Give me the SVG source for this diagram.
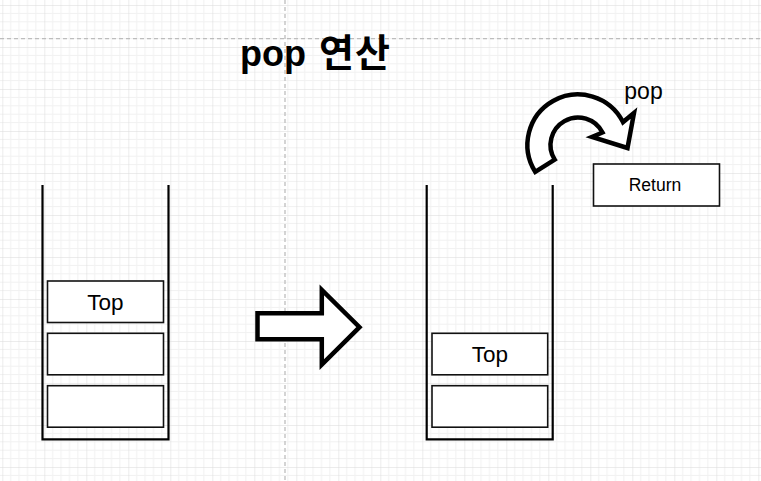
<svg xmlns="http://www.w3.org/2000/svg" width="761" height="481" viewBox="0 0 761 481">
<defs>
<pattern id="grid" patternUnits="userSpaceOnUse" x="2.3" y="5" width="42" height="42">
<path d="M8.4 0V42M16.8 0V42M25.2 0V42M33.6 0V42M0 8.4H42M0 16.8H42M0 25.2H42M0 33.6H42" stroke="#f1f1f1" stroke-width="1" fill="none"/>
<path d="M0 0V42M0 0H42" stroke="#dadada" stroke-width="1" fill="none"/>
</pattern>
<style>
.stack{fill:none;stroke:#000;stroke-width:2.2}
.box{fill:#fff;stroke:#111;stroke-width:1.6}
.lbl{font-family:"Liberation Sans",Arial,sans-serif;fill:#000;text-anchor:middle}
.big{fill:#fff;stroke:#000;stroke-width:4.5;stroke-linejoin:miter}
.guide{stroke:#bdbdbd;stroke-width:1.3;stroke-dasharray:4 3;fill:none}
</style>
</defs>
<rect width="761" height="481" fill="#fff"/>
<rect width="761" height="481" fill="url(#grid)"/>
<g id="guides">
<line class="guide" x1="0" y1="38.7" x2="761" y2="38.7"/>
<line class="guide" x1="285" y1="0" x2="285" y2="481"/>
</g>
<g id="title">
<text x="240" y="66" font-family="'Liberation Sans','Noto Sans CJK KR',sans-serif" font-weight="bold" font-size="36" fill="#000">pop <tspan dx="3" font-size="38" letter-spacing="1">연산</tspan></text>
</g>
<g id="stack-left">
<path class="stack" d="M42.5 185V439.3H168.5V185"/>
</g>
<g id="left-box-top"><rect class="box" x="47.5" y="281" width="116" height="41.5"/><text class="lbl" x="105.5" y="309.5" font-size="22.5">Top</text></g>
<g id="left-box-2"><rect class="box" x="47.5" y="333.3" width="116" height="41.5"/></g>
<g id="left-box-3"><rect class="box" x="47.5" y="385.7" width="116" height="41.5"/></g>
<g id="arrow-right">
<path class="big" d="M257.5 313.2H321.8V290L359.5 327.2L321.8 364.5V339.2H257.5Z"/>
</g>
<g id="stack-right">
<path class="stack" d="M426.7 185V439.3H552.7V185"/>
</g>
<g id="right-box-top"><rect class="box" x="432" y="333.3" width="115.7" height="41.5"/><text class="lbl" x="489.8" y="362" font-size="22.5">Top</text></g>
<g id="right-box-2"><rect class="box" x="432" y="385.7" width="115.7" height="41.5"/></g>
<g id="curved-arrow">
<path class="big" d="M554.7 159.6L535.2 171.8A50.5 50.5 0 1 1 623 122.1L634 113L627.5 148L592 137L602.5 132.5A27.5 27.5 0 1 0 554.7 159.6Z"/>
</g>
<g id="pop-label"><text class="lbl" x="643.5" y="99" font-size="23">pop</text></g>
<g id="return-box"><rect class="box" x="593.5" y="164" width="126" height="42"/><text class="lbl" x="655" y="191" font-size="17.5">Return</text></g>
<g id="connectors"></g>
</svg>
